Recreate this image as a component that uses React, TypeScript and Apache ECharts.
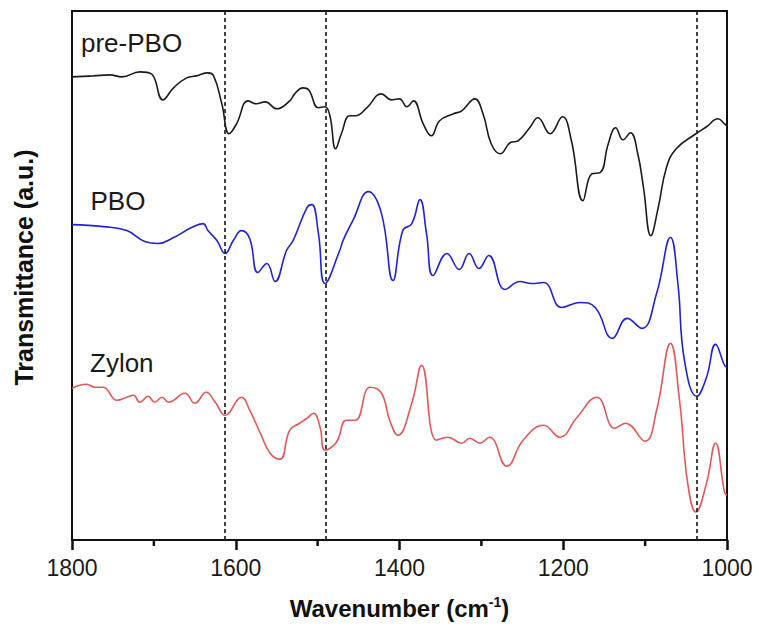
import React, { useEffect, useRef } from "react";
import * as echarts from "echarts";

// Wavenumbers (cm-1) and transmittance (a.u., offset traces)
const preWn = [1800, 1774, 1754, 1739, 1717, 1703, 1689, 1676, 1660, 1648, 1634, 1627, 1617, 1608, 1599, 1585, 1575, 1564, 1550, 1534, 1528, 1518, 1511, 1499, 1491, 1485, 1478, 1471, 1461, 1454, 1440, 1422, 1410, 1400, 1391, 1383, 1371, 1361, 1351, 1334, 1324, 1308, 1298, 1288, 1277, 1265, 1255, 1241, 1231, 1216, 1201, 1190, 1176, 1165, 1155, 1145, 1136, 1127, 1118, 1109, 1102, 1093, 1084, 1074, 1062, 1038, 1025, 1011, 1003, 1000];
const preVal = [464, 465, 466, 464, 469, 467, 441, 453, 463, 465, 468, 465, 437, 407, 417, 440, 437, 439, 432, 440, 447, 453, 451, 433, 434, 425, 392, 407, 425, 425, 433, 447, 441, 442, 434, 440, 417, 405, 420, 427, 430, 442, 427, 397, 387, 398, 400, 413, 423, 407, 424, 400, 340, 367, 368, 397, 413, 401, 408, 387, 353, 305, 333, 373, 392, 407, 414, 422, 417, 415];

const pboWn = [1800, 1762, 1733, 1711, 1695, 1676, 1654, 1640, 1634, 1623, 1613, 1603, 1593, 1583, 1573, 1562, 1552, 1538, 1530, 1513, 1507, 1499, 1491, 1473, 1469, 1457, 1438, 1422, 1408, 1396, 1385, 1375, 1367, 1359, 1342, 1327, 1315, 1303, 1291, 1271, 1253, 1239, 1224, 1202, 1180, 1161, 1140, 1122, 1104, 1086, 1069, 1060, 1052, 1037, 1025, 1014, 1003, 1000];
const pboVal = [316, 314, 310, 299, 297, 303, 313, 317, 310, 300, 287, 300, 310, 302, 268, 277, 259, 290, 300, 333, 336, 307, 257, 290, 300, 320, 349, 327, 260, 310, 317, 341, 307, 265, 287, 271, 287, 272, 285, 251, 259, 257, 258, 233, 238, 233, 202, 222, 212, 247, 303, 257, 180, 144, 163, 196, 175, 173];

const zyWn = [1800, 1782, 1772, 1762, 1745, 1733, 1725, 1717, 1707, 1699, 1690, 1682, 1662, 1650, 1636, 1625, 1613, 1593, 1583, 1570, 1558, 1546, 1534, 1522, 1513, 1505, 1497, 1491, 1477, 1465, 1454, 1436, 1422, 1412, 1402, 1385, 1373, 1355, 1341, 1324, 1314, 1302, 1290, 1269, 1249, 1224, 1204, 1184, 1159, 1137, 1124, 1100, 1086, 1069, 1058, 1048, 1038, 1025, 1014, 1003, 1000];
const zyVal = [152, 156, 153, 153, 140, 143, 145, 138, 144, 138, 143, 138, 147, 137, 148, 138, 125, 143, 130, 107, 87, 81, 110, 117, 122, 127, 113, 90, 98, 120, 120, 153, 147, 120, 105, 137, 175, 100, 103, 97, 102, 97, 103, 74, 100, 115, 103, 122, 143, 112, 117, 99, 130, 197, 140, 57, 28, 57, 97, 48, 45];

const markerWn = [1613, 1490, 1037];
const minorTickWn = [1700, 1500, 1300, 1100];
const xTicks = { min: 1000, max: 1800, interval: 200 };
const seriesNames = ["pre-PBO", "PBO", "Zylon"];

const zip = (xs: number[], ys: number[]) => xs.map((x, i) => [x, ys[i]]);

export default function App() {
  const ref = useRef<HTMLDivElement>(null);
  useEffect(() => {
    if (!ref.current) return;
    const chart = echarts.init(ref.current, null, { renderer: "svg" });
    const font = "'Liberation Sans', Arial, Helvetica, sans-serif";
    const lineBase = {
      type: "line" as const,
      smooth: 0.45,
      showSymbol: false,
      symbol: "none",
      silent: true,
    };
    chart.setOption({
      animation: false,
      grid: {
        left: 72,
        right: 32,
        top: 11,
        bottom: 89,
        show: true,
        borderColor: "#111",
        borderWidth: 2,
      },
      xAxis: {
        type: "value",
        min: xTicks.min,
        max: xTicks.max,
        interval: xTicks.interval,
        inverse: true,
        axisLine: { show: true, lineStyle: { color: "#111", width: 2 } },
        axisTick: { show: true, length: 10, lineStyle: { color: "#111", width: 2.5 } },
        splitLine: { show: false },
        axisLabel: {
          fontSize: 23,
          color: "#1a1a1a",
          fontFamily: font,
          margin: 16,
          formatter: (v: number) => String(v),
        },
      },
      yAxis: {
        type: "value",
        min: 0,
        max: 530,
        axisLine: { show: true, lineStyle: { color: "#111", width: 2 } },
        axisTick: { show: false },
        axisLabel: { show: false },
        splitLine: { show: false },
      },
      series: [
        {
          ...lineBase,
          name: seriesNames[0],
          data: zip(preWn, preVal),
          lineStyle: { color: "#1c1c1c", width: 1.6 },
          markLine: {
            silent: true,
            symbol: ["none", "none"],
            label: { show: false },
            lineStyle: { color: "#222", width: 1.7, type: [4, 3] },
            data: markerWn.map((w) => ({ xAxis: w })),
          },
        },
        {
          ...lineBase,
          name: seriesNames[1],
          data: zip(pboWn, pboVal),
          lineStyle: { color: "#2222d0", width: 1.6 },
        },
        {
          ...lineBase,
          name: seriesNames[2],
          data: zip(zyWn, zyVal),
          lineStyle: { color: "#e0585c", width: 1.6 },
        },
        {
          type: "custom",
          name: "minor ticks",
          silent: true,
          clip: false,
          data: minorTickWn.map((w) => [w, 0]),
          renderItem: (_params: any, api: any) => {
            const p = api.coord([api.value(0), 0]);
            return {
              type: "line",
              shape: { x1: p[0], y1: p[1], x2: p[0], y2: p[1] + 6 },
              style: { stroke: "#111", lineWidth: 2.5 },
            };
          },
        },
      ],
      graphic: [
        {
          type: "text",
          x: 81,
          y: 42.5,
          style: { text: seriesNames[0], font: `26px ${font}`, fill: "#1a1a1a", verticalAlign: "middle", align: "left" },
        },
        {
          type: "text",
          x: 90.5,
          y: 201,
          style: { text: seriesNames[1], font: `26px ${font}`, fill: "#1a1a1a", verticalAlign: "middle", align: "left" },
        },
        {
          type: "text",
          x: 90,
          y: 363,
          style: { text: seriesNames[2], font: `26px ${font}`, fill: "#1a1a1a", verticalAlign: "middle", align: "left" },
        },
        {
          type: "text",
          x: 24,
          y: 267.5,
          rotation: Math.PI / 2,
          style: {
            text: "Transmittance (a.u.)",
            font: `bold 25px ${font}`,
            fill: "#111",
            align: "center",
            verticalAlign: "middle",
          },
        },
        {
          type: "text",
          x: 399.5,
          y: 608,
          style: {
            text: "{a|Wavenumber (cm}{b|-1}{a|)}",
            align: "center",
            verticalAlign: "middle",
            rich: {
              a: { font: `bold 24px ${font}`, fill: "#111", lineHeight: 26 },
              b: { font: `bold 14px ${font}`, fill: "#111", verticalAlign: "top", lineHeight: 14 },
            },
          },
        },
      ],
    });
    return () => chart.dispose();
  }, []);
  return (
    <div
      ref={ref}
      style={{ position: "fixed", left: 0, top: 0, width: 759, height: 629, background: "#fff" }}
    />
  );
}
